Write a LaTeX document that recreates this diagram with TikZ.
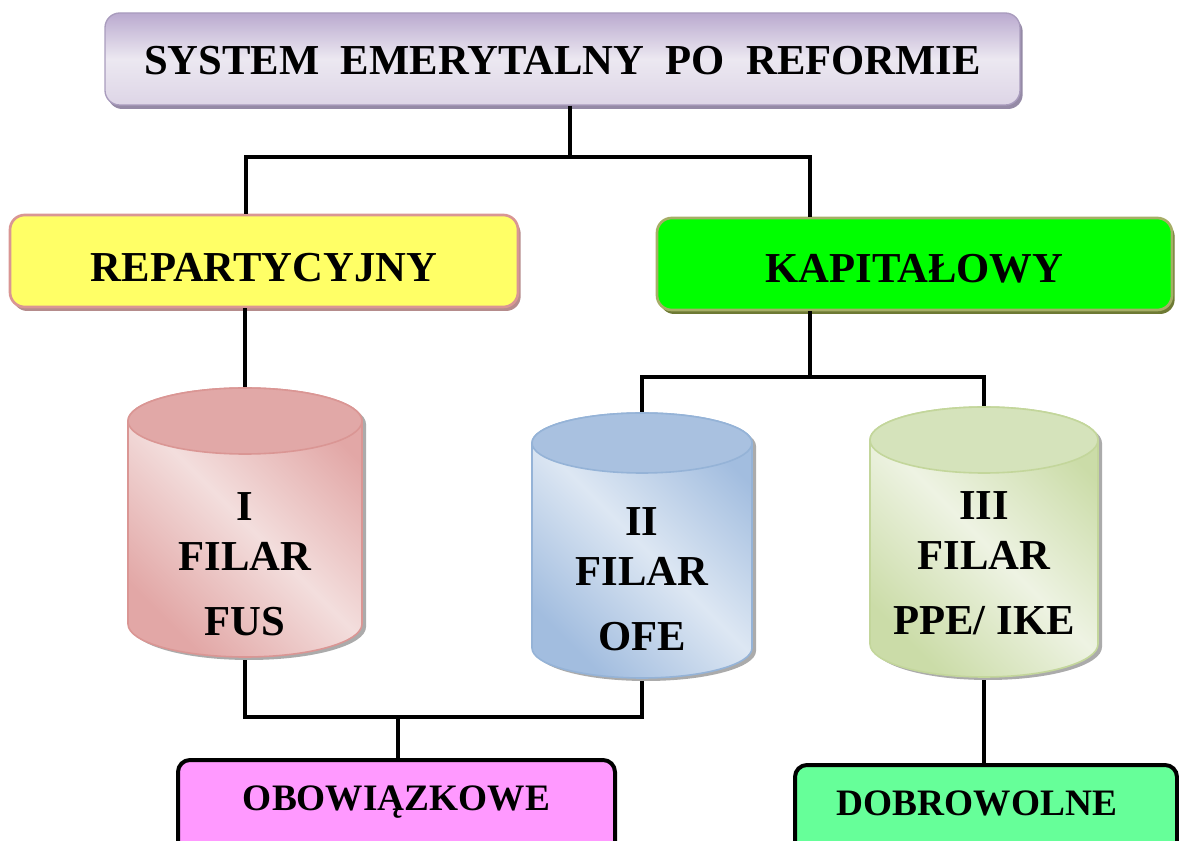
\documentclass[tikz,border=0pt]{standalone}
\usepackage{fontspec}
\setmainfont{Liberation Serif}
\usetikzlibrary{shadows}
\definecolor{topdark}{HTML}{BAAACF}
\definecolor{toplight}{HTML}{ECE8F1}
\definecolor{topbottom}{HTML}{DDD5E6}
\definecolor{topborder}{HTML}{A99CBD}
\definecolor{topshadow}{HTML}{958AA6}
\definecolor{repfill}{HTML}{FFFF66}
\definecolor{repborder}{HTML}{D99694}
\definecolor{repshadow}{HTML}{B58C8C}
\definecolor{kapfill}{HTML}{00FF00}
\definecolor{kapborder}{HTML}{A6AE66}
\definecolor{kapshadow}{HTML}{6E7A34}
\definecolor{obowfill}{HTML}{FF99FF}
\definecolor{dobrfill}{HTML}{66FF99}
\definecolor{cylshadow}{HTML}{ABABAB}
\definecolor{redark}{HTML}{E2A7A6}
\definecolor{relight}{HTML}{F3DEDD}
\definecolor{retop}{HTML}{E1A8A7}
\definecolor{reborder}{HTML}{DA9694}
\definecolor{bldark}{HTML}{A2BDDF}
\definecolor{bllight}{HTML}{DDE7F3}
\definecolor{bltop}{HTML}{A9C1E0}
\definecolor{blborder}{HTML}{95B3D7}
\definecolor{grdark}{HTML}{CBDCA8}
\definecolor{grlight}{HTML}{EEF3E3}
\definecolor{grtop}{HTML}{D5E3BB}
\definecolor{grborder}{HTML}{C3D69B}
% #1 cx, #2 top-ellipse centre y, #3 bottom-ellipse centre y, #4 rx, #5 ry (px),
% #6 dark, #7 light, #8 top fill, #9 border
\newcommand\drawcyl[9]{%
  \fill[cylshadow] ({#1-#4+4},{#2+3}) -- ({#1-#4+4},{#3+3})
    arc[start angle=180,end angle=360,x radius=#4*0.75pt,y radius=#5*0.75pt]
    -- ({#1+#4+4},{#2+3})
    arc[start angle=0,end angle=180,x radius=#4*0.75pt,y radius=#5*0.75pt] -- cycle;
  \path[draw=#9, line width=1.2pt, top color=#6, bottom color=#6, middle color=#7, shading angle=-45]
    ({#1-#4},#2) -- ({#1-#4},#3)
    arc[start angle=180,end angle=360,x radius=#4*0.75pt,y radius=#5*0.75pt]
    -- ({#1+#4},#2)
    arc[start angle=0,end angle=180,x radius=#4*0.75pt,y radius=#5*0.75pt] -- cycle;
  \path[draw=#9, line width=1.2pt, fill=#8] (#1,#2) ellipse[x radius=#4*0.75pt, y radius=#5*0.75pt];
}
\begin{document}
\begin{tikzpicture}[x=0.75pt,y=-0.75pt,
  conn/.style={line width=3pt},
  lbl/.style={font=\bfseries\fontsize{32}{37.5}\selectfont, align=center, inner sep=0pt},
  mainbox/.style={rounded corners=11pt, font=\bfseries\fontsize{32}{38}\selectfont,
    inner sep=0pt, minimum height=69pt, text depth=0pt},
  lowbox/.style={rounded corners=9pt, draw=black, line width=3pt,
    font=\bfseries\fontsize{28}{34}\selectfont, minimum height=75pt,
    text height=12pt, text depth=12pt, inner sep=0pt},
  cylnode/.style={inner sep=0pt, outer sep=0pt}
]
\useasboundingbox (0,0) rectangle (1179,841);
\clip (0,0) rectangle (1179,841);

% connectors
\coordinate (j0) at (570,157);
\coordinate (jl) at (246,157);
\coordinate (jr) at (810,157);
\coordinate (h2) at (810,377);
\coordinate (h3) at (398,717);

% invisible cylinder frames
\node[cylnode, minimum width=175.5pt, minimum height=201.75pt] (cyl1) at (245,522.5) {};
\node[cylnode, minimum width=165pt, minimum height=198.75pt] (cyl2) at (642,545.5) {};
\node[cylnode, minimum width=171pt, minimum height=202.5pt] (cyl3) at (984,542) {};

% boxes
\node[mainbox, minimum width=686.25pt, draw=topborder, line width=1pt, text height=24pt,
  top color=topdark, bottom color=topbottom, middle color=toplight,
  drop shadow={shadow xshift=2pt, shadow yshift=-3pt, fill=topshadow, opacity=1}]
  (top) at (562.5,59) {SYSTEM\ \ EMERYTALNY\ \ PO\ \ REFORMIE};
\node[mainbox, minimum width=381pt, fill=repfill, draw=repborder, line width=2pt, text height=31pt,
  drop shadow={shadow xshift=2pt, shadow yshift=-3pt, fill=repshadow, opacity=1}]
  (rep) at (264,261) {REPARTYCYJNY};
\node[mainbox, minimum width=386.25pt, fill=kapfill, draw=kapborder, line width=2pt, text height=28pt,
  drop shadow={shadow xshift=2pt, shadow yshift=-3pt, fill=kapshadow, opacity=1}]
  (kap) at (914.5,264) {KAPITAŁOWY};
\node[lowbox, fill=obowfill, minimum width=327.75pt] (obow) at (396.5,810) {OBOWIĄZKOWE};
\node[lowbox, fill=dobrfill, minimum width=286.5pt] (dobr) at (986,815) {DOBROWOLNE\hspace*{13.5pt}};

\draw[conn] (top.south -| j0) -- (j0);
\draw[conn] (rep.north -| jl) -- (jl) -- (jr) -- (kap.north -| jr);
\draw[conn] (rep.south -| cyl1.north) -- (cyl1.north);
\draw[conn] (kap.south -| h2) -- (h2);
\draw[conn] (cyl2.north) -- (cyl2.north |- h2) -- (cyl3.north |- h2) -- (cyl3.north);
\draw[conn] (cyl1.south) -- (cyl1.south |- h3) -- (cyl2.south |- h3) -- (cyl2.south);
\draw[conn] (h3) -- (obow.north -| h3);
\draw[conn] (cyl3.south) -- (dobr.north -| cyl3.south);

% cylinders
\drawcyl{245}{421}{624}{117}{33}{redark}{relight}{retop}{reborder}
\drawcyl{642}{443}{648}{110}{30}{bldark}{bllight}{bltop}{blborder}
\drawcyl{984}{440}{644}{114}{33}{grdark}{grlight}{grtop}{grborder}

\node[lbl] (t1) at (245,564) {I\\FILAR\\[11pt]FUS};
\node[lbl] (t2) at (642,579) {II\\FILAR\\[11pt]OFE};
\node[lbl] (t3) at (984,563) {III\\FILAR\\[11pt]PPE/ IKE};
\end{tikzpicture}
\end{document}
